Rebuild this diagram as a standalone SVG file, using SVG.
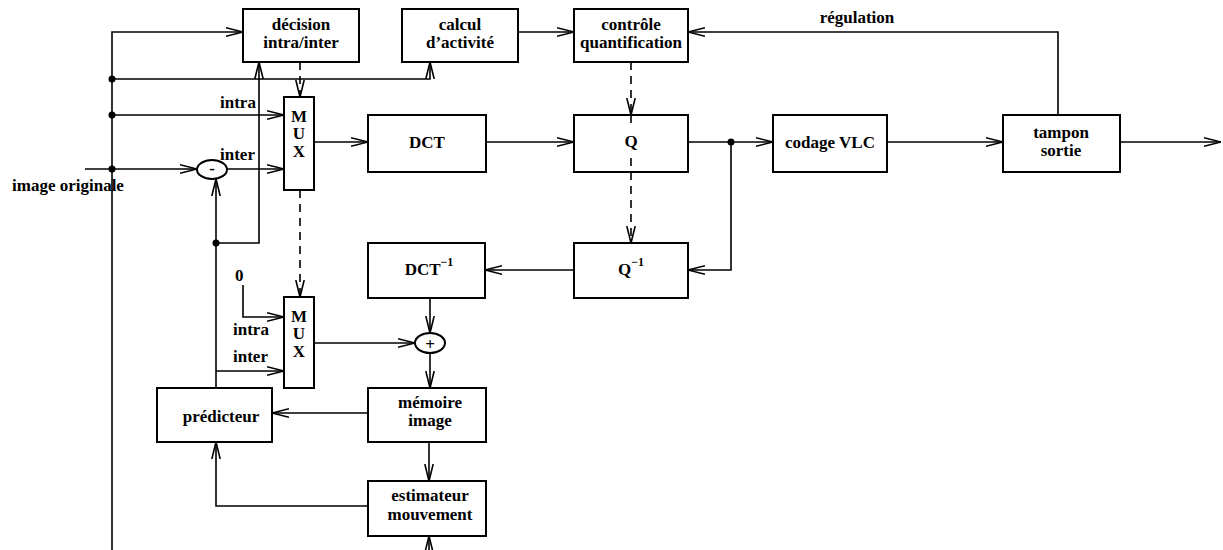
<svg xmlns="http://www.w3.org/2000/svg" width="1223" height="550" viewBox="0 0 1223 550">
<style>
.box{fill:#fff;stroke:#000;stroke-width:2}
.t{font-family:"Liberation Serif","DejaVu Serif","Times New Roman",serif;font-size:17px;font-weight:bold;fill:#000;text-anchor:middle}
.l{font-family:"Liberation Serif","DejaVu Serif","Times New Roman",serif;font-size:17px;font-weight:bold;fill:#000}
.mux{font-family:"Liberation Serif","DejaVu Serif","Times New Roman",serif;font-size:17px;font-weight:bold;fill:#000;text-anchor:middle}
.c{fill:none;stroke:#000;stroke-width:1.6}
.d{fill:none;stroke:#000;stroke-width:1.6;stroke-dasharray:8,6}
.dot{fill:#000}
</style>
<defs>
<marker id="a" markerUnits="userSpaceOnUse" viewBox="0 0 17 10" refX="17" refY="5" markerWidth="17" markerHeight="10" orient="auto">
<path d="M0,0.8 L17,5 L0,9.2" fill="none" stroke="#000" stroke-width="1.6"/>
</marker>
</defs>
<rect width="1223" height="550" fill="#fff"/>
<g id="connectors">
<path class="c" d="M85,169 H197" marker-end="url(#a)"/>
<path class="c" d="M112,550 V32 H243" marker-end="url(#a)"/>
<path class="c" d="M112,79 H430 V62" marker-end="url(#a)"/>
<path class="c" d="M112,115 H284" marker-end="url(#a)"/>
<path class="c" d="M227,169 H284" marker-end="url(#a)"/>
<path class="c" d="M216,388 V179" marker-end="url(#a)"/>
<path class="c" d="M216,243 H259 V62" marker-end="url(#a)"/>
<path class="c" d="M216,371 H284" marker-end="url(#a)"/>
<path class="c" d="M243,285 V317 H284" marker-end="url(#a)"/>
<path class="d" d="M300,62 V97" marker-end="url(#a)"/>
<path class="d" d="M300,190 V297" marker-end="url(#a)"/>
<path class="c" d="M314,142 H368" marker-end="url(#a)"/>
<path class="c" d="M486,142 H574" marker-end="url(#a)"/>
<path class="c" d="M518,32 H574" marker-end="url(#a)"/>
<path class="d" d="M631,62 V115" marker-end="url(#a)"/>
<path class="d" d="M631,172 V243" marker-end="url(#a)"/>
<path class="c" d="M688,142 H773" marker-end="url(#a)"/>
<path class="c" d="M731,142 V270 H688" marker-end="url(#a)"/>
<path class="c" d="M574,270 H485" marker-end="url(#a)"/>
<path class="c" d="M887,142 H1003" marker-end="url(#a)"/>
<path class="c" d="M1120,142 H1221" marker-end="url(#a)"/>
<path class="c" d="M1058,115 V32 H688" marker-end="url(#a)"/>
<path class="c" d="M430,298 V333" marker-end="url(#a)"/>
<path class="c" d="M314,343 H415" marker-end="url(#a)"/>
<path class="c" d="M430,353 V388" marker-end="url(#a)"/>
<path class="c" d="M368,413 H272" marker-end="url(#a)"/>
<path class="c" d="M429,442 V481" marker-end="url(#a)"/>
<path class="c" d="M368,506 H216 V442" marker-end="url(#a)"/>
<path class="c" d="M429,550 V536" marker-end="url(#a)"/>
<circle class="dot" cx="112" cy="79" r="3.5"/>
<circle class="dot" cx="112" cy="115" r="3.5"/>
<circle class="dot" cx="112" cy="169" r="3.5"/>
<circle class="dot" cx="216" cy="243" r="3.5"/>
<circle class="dot" cx="731" cy="142" r="3.5"/>
<text class="l" x="220" y="108">intra</text>
<text class="l" x="220" y="160">inter</text>
<text class="l" x="12" y="191">image originale</text>
<text class="l" x="235" y="281">0</text>
<text class="l" x="233" y="335">intra</text>
<text class="l" x="233" y="362">inter</text>
<text class="t" x="857" y="23">régulation</text>
</g>
<g id="decision">
<rect class="box" x="243" y="9" width="116" height="53"/>
<text class="t" x="301" y="30">décision</text>
<text class="t" x="301" y="48">intra/inter</text>
</g>
<g id="calcul">
<rect class="box" x="402" y="9" width="116" height="53"/>
<text class="t" x="460" y="30">calcul</text>
<text class="t" x="460" y="48">d’activité</text>
</g>
<g id="controle">
<rect class="box" x="574" y="9" width="114" height="53"/>
<text class="t" x="631" y="30">contrôle</text>
<text class="t" x="631" y="48">quantification</text>
</g>
<g id="mux1">
<rect class="box" x="284" y="97" width="30" height="93"/>
<text class="mux" x="299" y="122">M</text>
<text class="mux" x="299" y="139">U</text>
<text class="mux" x="299" y="157">X</text>
</g>
<g id="mux2">
<rect class="box" x="284" y="297" width="30" height="91"/>
<text class="mux" x="299" y="322">M</text>
<text class="mux" x="299" y="339">U</text>
<text class="mux" x="299" y="357">X</text>
</g>
<g id="dct">
<rect class="box" x="368" y="115" width="118" height="57"/>
<text class="t" x="427" y="148">DCT</text>
</g>
<g id="q">
<rect class="box" x="574" y="115" width="114" height="57"/>
<path class="d" d="M631,115 V127 M631,158 V172"/>
<text class="t" x="631" y="147">Q</text>
</g>
<g id="vlc">
<rect class="box" x="773" y="115" width="114" height="57"/>
<text class="t" x="830" y="148">codage VLC</text>
</g>
<g id="tampon">
<rect class="box" x="1003" y="115" width="117" height="57"/>
<text class="t" x="1061" y="138">tampon</text>
<text class="t" x="1061" y="156">sortie</text>
</g>
<g id="dctinv">
<rect class="box" x="368" y="243" width="117" height="55"/>
<text class="t" x="429" y="275">DCT<tspan dy="-9" font-size="12">−1</tspan></text>
</g>
<g id="qinv">
<rect class="box" x="574" y="243" width="114" height="55"/>
<text class="t" x="631" y="275">Q<tspan dy="-9" font-size="12">−1</tspan></text>
</g>
<g id="moins">
<ellipse cx="212" cy="169.5" rx="15" ry="9.5" fill="#fff" stroke="#000" stroke-width="2"/>
<text class="t" x="212" y="174">-</text>
</g>
<g id="plus">
<ellipse cx="430" cy="343" rx="15" ry="10" fill="#fff" stroke="#000" stroke-width="2"/>
<text class="t" x="430" y="350" font-size="20">+</text>
</g>
<g id="predicteur">
<rect class="box" x="157" y="388" width="115" height="54"/>
<text class="t" x="221" y="422">prédicteur</text>
</g>
<g id="memoire">
<rect class="box" x="368" y="388" width="118" height="54"/>
<text class="t" x="430" y="408">mémoire</text>
<text class="t" x="430" y="426">image</text>
</g>
<g id="estimateur">
<rect class="box" x="368" y="481" width="118" height="55"/>
<text class="t" x="430" y="501">estimateur</text>
<text class="t" x="430" y="520">mouvement</text>
</g>
</svg>
